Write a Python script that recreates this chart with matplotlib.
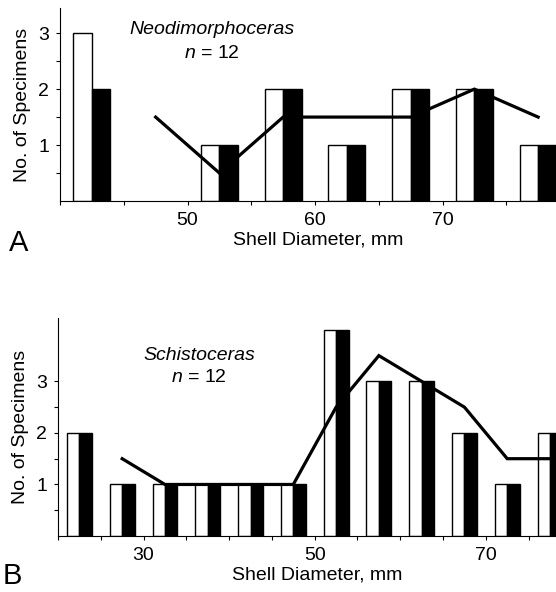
"""
Shell diameter histograms, two genera
"""
import numpy as np
import matplotlib
matplotlib.use("Agg")
import matplotlib.pyplot as plt

plt.rcParams.update({
    'font.family': ['Liberation Sans', 'DejaVu Sans'],
    'font.size': 14,
    'mathtext.fontset': 'custom',
    'mathtext.it': 'Liberation Sans:italic',
    'mathtext.rm': 'Liberation Sans',
})

# Panel A - Neodimorphoceras
a_bins = [42.5, 47.5, 52.5, 57.5, 62.5, 67.5, 72.5, 77.5]
a_white = [3, 0, 1, 2, 1, 2, 2, 1]
a_black = [2, 0, 1, 2, 1, 2, 2, 1]
a_line_x = [47.5, 52.5, 57.5, 62.5, 67.5, 72.5, 77.5]
a_line_y = [1.5, 0.5, 1.5, 1.5, 1.5, 2.0, 1.5]

# Panel B - Schistoceras
b_bins = [22.5, 27.5, 32.5, 37.5, 42.5, 47.5, 52.5, 57.5, 62.5, 67.5, 72.5, 77.5]
b_white = [2, 1, 1, 1, 1, 1, 4, 3, 3, 2, 1, 2]
b_black = [2, 1, 1, 1, 1, 1, 4, 3, 3, 2, 1, 2]
b_line_x = [27.5, 32.5, 37.5, 42.5, 47.5, 52.5, 57.5, 62.5, 67.5, 72.5, 77.5]
b_line_y = [1.5, 1.0, 1.0, 1.0, 1.0, 2.5, 3.5, 3.0, 2.5, 1.5, 1.5]

W, H = 556, 592
fig = plt.figure(figsize=(W/100, H/100), dpi=100)


def panel(rect, bins, white, black, lx, ly, xlim, ylim, xticks, xlabels):
    ax = fig.add_axes(rect)
    w = 1.45
    bins = np.array(bins)
    white = np.array(white, dtype=float)
    black = np.array(black, dtype=float)
    # skip empty bins so no outline lies on the axis
    keep = (white > 0) | (black > 0)
    ax.bar(bins[keep] - w/2, white[keep], width=w, color='white', edgecolor='black',
           linewidth=1.0, zorder=2)
    ax.plot(lx, ly, color='black', linewidth=2.3, zorder=3, solid_joinstyle='miter')
    ax.bar(bins[keep] + w/2, black[keep], width=w, color='black', edgecolor='black',
           linewidth=1.0, zorder=4)
    ax.set_xlim(*xlim)
    ax.set_ylim(*ylim)
    ax.spines['top'].set_visible(False)
    ax.spines['right'].set_visible(False)
    ax.set_xticks(xticks)
    ax.set_xticklabels(xlabels)
    ax.set_yticks([1, 2, 3])
    ax.set_yticks([0.5, 1.5, 2.5], minor=True)
    ax.tick_params(which='both', length=3, width=0.8, direction='out')
    ax.tick_params(axis='y', pad=5)
    ax.tick_params(axis='x', pad=5)
    ax.set_xlabel('Shell Diameter, mm')
    # label sits about 31 px under the axis, a little right of centre
    ax.xaxis.set_label_coords(0.52, -31 / (rect[3] * H))
    ax.set_ylabel('No. of Specimens', labelpad=5)
    return ax


panel([60/W, 391/H, 496/W, 193/H], a_bins, a_white, a_black, a_line_x, a_line_y,
      (40, 78.9), (0, 3.45), [40, 45, 50, 55, 60, 65, 70, 75],
      ['', '', '50', '', '60', '', '70', ''])
panel([58/W, 56/H, 498/W, 218/H], b_bins, b_white, b_black, b_line_x, b_line_y,
      (20, 78.2), (0, 4.23), [20, 25, 30, 35, 40, 45, 50, 55, 60, 65, 70, 75],
      ['', '', '30', '', '', '', '50', '', '', '', '70', ''])

# Genus names and sample size
fig.text(212/W, 1 - 30/H, 'Neodimorphoceras', style='italic', ha='center', va='center')
fig.text(212/W, 1 - 53/H, '$n$ = 12', ha='center', va='center')
fig.text(199/W, 1 - 355/H, 'Schistoceras', style='italic', ha='center', va='center')
fig.text(199/W, 1 - 378/H, '$n$ = 12', ha='center', va='center')

# Panel letters
fig.text(19/W, 1 - 243/H, 'A', fontsize=21, ha='center', va='center')
fig.text(12/W, 1 - 576/H, 'B', fontsize=21, ha='center', va='center')

fig.savefig('out.png', dpi=100, facecolor='white')
